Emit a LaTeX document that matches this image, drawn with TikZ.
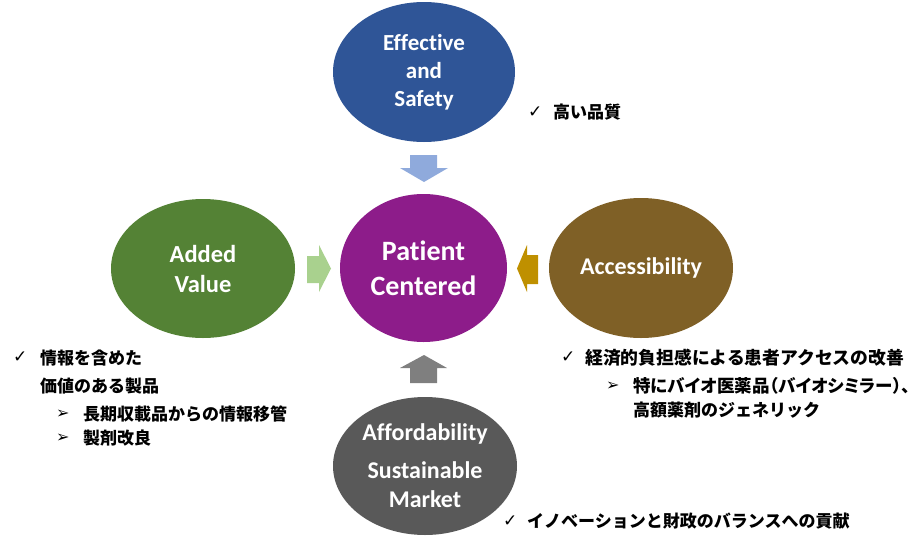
\documentclass[tikz,border=0pt]{standalone}
\usepackage{fontspec}
\setmainfont[Ligatures=CommonOff,RawFeature={-liga;-dlig}]{Carlito}
\newfontfamily\jpfont{Noto Sans CJK JP}
\newfontfamily\jpfontp[RawFeature={+palt}]{Noto Sans CJK JP}
\newfontfamily\symfont{DejaVu Sans}
\usetikzlibrary{shapes.geometric}
\definecolor{cBlue}{RGB}{47,85,151}
\definecolor{cPurple}{RGB}{141,28,138}
\definecolor{cGreen}{RGB}{84,130,53}
\definecolor{cGold}{RGB}{127,96,38}
\definecolor{cGray}{RGB}{89,89,89}
\definecolor{aBlue}{RGB}{143,170,220}
\definecolor{aGreen}{RGB}{169,209,142}
\definecolor{aGold}{RGB}{191,144,0}
\definecolor{aGray}{RGB}{127,127,127}
\tikzset{
  bubble/.style={ellipse, inner sep=0pt, text=white, align=center, font=\bfseries},
  jtext/.style={anchor=west, inner sep=0pt, font=\jpfont\bfseries\fontsize{17}{20}\selectfont},
  chk/.style={anchor=west, inner sep=0pt, font=\symfont\fontsize{17}{18}\selectfont},
  arr/.style={anchor=west, inner sep=0pt, font=\symfont\fontsize{16}{18}\selectfont},
}
\begin{document}
\begin{tikzpicture}[x=1pt,y=-1pt]
\useasboundingbox (0,0) rectangle (924,544);
% ellipses
\node[bubble, fill=cBlue, minimum width=182pt, minimum height=140pt,
      font=\bfseries\fontsize{23}{28}\selectfont] (eff) at (424,72) {Effective\\and\\Safety};
\node[bubble, fill=cPurple, minimum width=167pt, minimum height=148pt,
      font=\bfseries\fontsize{28}{35}\selectfont] (pc) at (423.5,268) {Patient\\Centered};
\node[bubble, fill=cGreen, minimum width=184pt, minimum height=139pt,
      font=\bfseries\fontsize{24.5}{30}\selectfont] (av) at (203,268.5) {Added\\Value};
\node[bubble, fill=cGold, minimum width=184pt, minimum height=140pt,
      font=\bfseries\fontsize{24}{29}\selectfont] (acc) at (641,268) {Accessibility};
\node[bubble, fill=cGray, minimum width=184pt, minimum height=138pt,
      font=\bfseries\fontsize{24}{29}\selectfont] (aff) at (425,466) {Affordability\\[9pt]Sustainable\\Market};
% block arrows
\fill[aBlue] (410,155) -- (437,155) -- (437,168) -- (448,168) -- (424,182) -- (400,168) -- (410,168) -- cycle;
\fill[aGreen] (307,256) -- (319,256) -- (319,245) -- (331,268.5) -- (319,292) -- (319,283) -- (307,283) -- cycle;
\fill[aGold] (538,255) -- (527,255) -- (527,245) -- (517,268.5) -- (527,292) -- (527,284) -- (538,284) -- cycle;
\fill[aGray] (410,383) -- (437,383) -- (437,368) -- (447,368) -- (424,355) -- (400,368) -- (410,368) -- cycle;
% texts
\node[chk] (c1) at (528,112) {✓};
\node[jtext] (t1) at (553,112) {高い品質};
\node[chk] (c2) at (13,357) {✓};
\node[jtext] (t2) at (40,358) {情報を含めた};
\node[jtext] (t3) at (40,386) {価値のある製品};
\node[arr] (a1) at (56,414) {➢};
\node[jtext] (t4) at (83,414) {長期収載品からの情報移管};
\node[arr] (a2) at (56,438) {➢};
\node[jtext] (t5) at (83,438) {製剤改良};
\node[chk] (c3) at (561,357) {✓};
\node[jtext, font=\jpfont\bfseries\fontsize{17.8}{20}\selectfont] (t6) at (585,358) {経済的負担感による患者アクセスの改善};
\node[arr] (a3) at (606,386) {➢};
\node[jtext, font=\jpfontp\bfseries\fontsize{17.5}{20}\selectfont] (t7) at (633,386) {特にバイオ医薬品（バイオシミラー）、};
\node[jtext] (t8) at (633,410) {高額薬剤のジェネリック};
\node[chk] (c4) at (503,521) {✓};
\node[jtext] (t9) at (527,521) {イノベーションと財政のバランスへの貢献};
\end{tikzpicture}
\end{document}
